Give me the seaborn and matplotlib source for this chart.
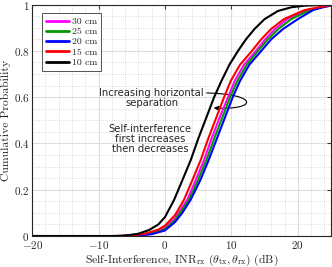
import numpy as np
import pandas as pd
import matplotlib
matplotlib.use("Agg")
import matplotlib.pyplot as plt
from matplotlib.path import Path
from matplotlib.patches import FancyArrowPatch
from matplotlib.ticker import MultipleLocator
import seaborn as sns

# CDF curves: x in dB, y = cumulative probability
x_30 = [-20, -7, -5, -3, -1, 0, 1.5, 3.35, 4.6, 5.9, 7.0, 8.2, 9.5, 10.5, 11.9, 13.7, 15.1, 16.6, 18.4, 21.4, 23.7, 25]
y_30 = [0, 0, 0.002, 0.008, 0.022, 0.036, 0.076, 0.156, 0.24, 0.33, 0.42, 0.51, 0.6, 0.67, 0.74, 0.8, 0.85, 0.895, 0.937, 0.976, 0.99, 0.997]

x_25 = [-20, -6.5, -4.5, -2.5, -0.5, 0, 1.5, 3.6, 4.95, 6.25, 7.4, 8.6, 9.8, 10.9, 12.3, 14.0, 15.5, 17.1, 19.0, 21.8, 23.9, 25]
y_25 = [0, 0, 0.002, 0.008, 0.024, 0.03, 0.068, 0.156, 0.24, 0.33, 0.42, 0.51, 0.6, 0.67, 0.74, 0.8, 0.85, 0.895, 0.937, 0.976, 0.99, 0.996]

x_20 = [-20, -6, -4, -2, 0, 1.5, 2.6, 3.85, 5.3, 6.6, 7.8, 9.0, 10.2, 11.3, 12.7, 14.5, 16.0, 17.8, 20.0, 22.3, 24, 25]
y_20 = [0, 0, 0.002, 0.008, 0.024, 0.06, 0.1, 0.156, 0.24, 0.33, 0.42, 0.51, 0.6, 0.67, 0.74, 0.8, 0.85, 0.895, 0.937, 0.976, 0.99, 0.995]

x_15 = [-20, -7, -5, -3, -1, 0, 1.5, 2.85, 4.1, 5.4, 6.5, 7.7, 8.9, 9.9, 11.3, 13.1, 14.5, 16.0, 17.9, 21.0, 23.5, 25]
y_15 = [0, 0, 0.003, 0.01, 0.028, 0.045, 0.09, 0.156, 0.24, 0.33, 0.42, 0.51, 0.6, 0.67, 0.74, 0.8, 0.85, 0.895, 0.937, 0.976, 0.99, 0.997]

x_10 = [-20, -8, -6, -4, -2.4, -1, 0, 1.35, 2.6, 3.9, 5.0, 6.2, 7.4, 8.5, 9.7, 11.0, 12.2, 13.5, 15.0, 17.0, 19.0, 21, 25]
y_10 = [0, 0, 0.002, 0.01, 0.026, 0.05, 0.082, 0.155, 0.24, 0.33, 0.42, 0.51, 0.6, 0.67, 0.74, 0.8, 0.85, 0.895, 0.937, 0.972, 0.988, 0.995, 1.0]

labels = ["30 cm", "25 cm", "20 cm", "15 cm", "10 cm"]
colors = ["#ff00ff", "#009900", "#0000ff", "#ff0000", "#000000"]
curves = [(x_30, y_30), (x_25, y_25), (x_20, y_20), (x_15, y_15), (x_10, y_10)]

sns.set_style("whitegrid")
plt.rcParams["mathtext.fontset"] = "cm"
plt.rcParams["axes.unicode_minus"] = False

fig = plt.figure(figsize=(3.32, 2.67), dpi=100)
ax = fig.add_axes([0.097, 0.116, 0.9, 0.867])

for (xs, ys), lab, col in zip(curves, labels, colors):
    df = pd.DataFrame({"inr": xs, "cdf": ys})
    sns.lineplot(data=df, x="inr", y="cdf", color=col, label=lab, lw=1.5,
                 estimator=None, ax=ax)

ax.set_xlim(-20, 25)
ax.set_ylim(0, 1)
xt = [-20, -10, 0, 10, 20]
yt = [0, 0.2, 0.4, 0.6, 0.8, 1]
ax.set_xticks(xt)
ax.set_yticks(yt)
ax.set_xticklabels([r"$%d$" % v for v in xt], fontsize=8)
ax.set_yticklabels([r"$%g$" % v for v in yt], fontsize=8)
ax.xaxis.set_minor_locator(MultipleLocator(2))
ax.yaxis.set_minor_locator(MultipleLocator(0.05))
ax.grid(which="major", color="#dedede", lw=0.8, ls="-")
ax.grid(which="minor", color="#d0d0d0", lw=0.6, ls=":")
ax.tick_params(which="both", direction="in", top=True, right=True, length=0, pad=2)
ax.tick_params(which="major", length=3, color="#404040")
for s in ax.spines.values():
    s.set_color("#262626")
    s.set_linewidth(0.8)

ax.set_xlabel(r"Self-Interference, INR$_{\rm rx}\ (\theta_{\rm tx}, \theta_{\rm rx})$ (dB)",
              fontsize=8.4, family="cmr10", labelpad=1)
ax.set_ylabel("Cumulative Probability", fontsize=8.4, family="cmr10", labelpad=1.5)

leg = ax.legend(loc="upper left", bbox_to_anchor=(0.022, 0.975),
                prop={"family": "cmr10", "size": 7}, frameon=True, fancybox=False,
                handlelength=2.4, handletextpad=0.3, labelspacing=0.15,
                borderpad=0.4, borderaxespad=0.3)
leg.get_frame().set_edgecolor("#262626")
leg.get_frame().set_linewidth(0.7)
for h in leg.get_lines():
    h.set_linewidth(2)

ax.text(-2.0, 0.597, "Increasing horizontal\nseparation", ha="center", va="center",
        fontsize=7.2, family="DejaVu Sans", linespacing=1.0)
ax.text(-2.2, 0.421, "Self-interference\nfirst increases\nthen decreases", ha="center",
        va="center", fontsize=7.2, family="DejaVu Sans", linespacing=1.0)

verts = [(6.29, 0.618), (14.08, 0.613), (14.08, 0.544), (7.34, 0.553)]
codes = [Path.MOVETO, Path.CURVE4, Path.CURVE4, Path.CURVE4]
arrow = FancyArrowPatch(path=Path(verts, codes), arrowstyle="-|>", mutation_scale=7,
                        color="k", lw=0.8)
ax.add_patch(arrow)

fig.savefig("out.png", dpi=100)
